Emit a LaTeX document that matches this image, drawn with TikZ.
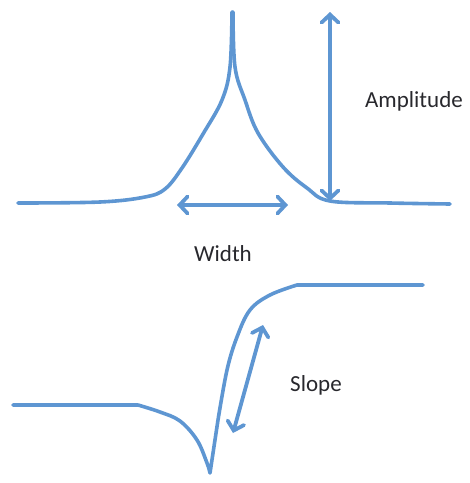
\documentclass[tikz,border=0pt]{standalone}
\usepackage{fontspec}
\setmainfont{Carlito}
\usetikzlibrary{arrows.meta,positioning}
\definecolor{curveblue}{RGB}{94,150,210}
\definecolor{labelgray}{RGB}{40,40,45}
\tikzset{
  curve/.style={curveblue, line width=3.6pt, line cap=round, line join=round},
  dimarrow/.style={curveblue, line width=3.8pt, line cap=round,
    {Straight Barb[length=8pt,width=17pt,line cap=round]}-{Straight Barb[length=8pt,width=17pt,line cap=round]}},
  lbl/.style={font=\fontsize{23}{27}\selectfont, text=labelgray, inner sep=0pt}
}
\begin{document}
\begin{tikzpicture}[x=1pt,y=-1pt]
  \useasboundingbox (0,0) rectangle (470,483);
  % peak (top) and step (bottom) sketches
  \draw[curve] plot[smooth,tension=0.6] coordinates {(18,203) (100,202) (145,197) (165,189) (182,168) (203,134) (222,100) (230,67) (232,12)};
  \draw[curve] plot[smooth,tension=0.6] coordinates {(233,12) (235,67) (245,100) (258,133) (283,167) (307,188) (330,201) (390,203) (450,204)};
  \draw[curve] (13,405) -- (138,405) plot[smooth,tension=0.6] coordinates {(138,405) (160,412) (180,421) (197,440) (207,463) (210,473)}
    -- (218,420) plot[smooth,tension=0.6] coordinates {(218,420) (227,370) (237,337) (250,310) (270,295) (297,285)} -- (423,285);
  % dimension arrows
  \coordinate (amptop) at (330,12);
  \coordinate (ampbot) at (330,201);
  \coordinate (widL) at (177,205);
  \coordinate (widR) at (288,205);
  \coordinate (slpL) at (233,433);
  \coordinate (slpR) at (263,325);
  \draw[dimarrow] (amptop) -- (ampbot);
  \draw[dimarrow] (widL) -- (widR);
  \draw[dimarrow] (slpL) -- (slpR);
  \node[lbl] (amplitude) at (414,101) {Amplitude};
  \node[lbl] (width) at (223,254) {Width};
  \node[lbl] (slope) at (316,385) {Slope};
\end{tikzpicture}
\end{document}
